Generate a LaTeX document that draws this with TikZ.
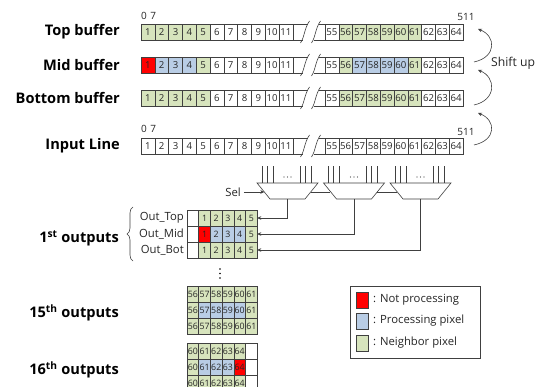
\documentclass[tikz,border=0pt]{standalone}
\usepackage{fontspec}
\setmainfont{Open Sans}
\usetikzlibrary{decorations.pathreplacing,arrows.meta,calc}
\definecolor{cG}{HTML}{D7E4BD}
\definecolor{cB}{HTML}{B9CDE5}
\definecolor{cR}{HTML}{FF0000}
\definecolor{ln}{HTML}{404040}
\newcommand\brkat[1]{%
\begin{scope}[shift={(0,#1)}]
\draw[ln,line width=0.6pt] (292.8,0)--(308,0) (292.8,16)--(302.5,16) (318.5,0)--(325,0) (313.5,16)--(325,16);
\draw[ln,line width=0.6pt] (300.5,19) .. controls (305,12) and (304,5) .. (309.5,-3)
  (311.5,19) .. controls (316,12) and (315,5) .. (320.5,-3);
\end{scope}}
\begin{document}
\begin{tikzpicture}[x=1pt,y=-1pt,
  cellb/.style={draw=ln, line width=0.6pt, minimum width=13.8pt, minimum height=16pt, inner sep=0pt, outer sep=0pt, anchor=north west, font=\fontsize{9.6}{9.6}\selectfont, text=black!85},
  cello/.style={cellb, minimum width=11.7pt, font=\fontsize{8.8}{8.8}\selectfont},
  lbl/.style={font=\fontsize{14.6}{15}\selectfont\bfseries, anchor=east, inner sep=0pt},
  small/.style={font=\fontsize{10}{10}\selectfont, inner sep=0pt, text=black!85},
  txt/.style={font=\fontsize{11.3}{12}\selectfont, inner sep=0pt, text=black!85},
  wire/.style={ln, line width=0.6pt},
  arr/.style={wire, -{Stealth[length=4pt,width=3.6pt]}},
  legsq/.style={draw=ln, line width=0.6pt, minimum width=12pt, minimum height=16pt, inner sep=0pt, anchor=north west}]
\clip (0,0) rectangle (546,387);
\fill[white] (0,0) rectangle (546,387);

% ---- labels
\node[lbl] (lt) at (120,32) {Top buffer};
\node[lbl] (lm) at (120,65) {Mid buffer};
\node[lbl] (lb) at (120,98) {Bottom buffer};
\node[lbl] (li) at (120,146) {Input Line};

% ---- buffer rows
\foreach \n/\f [count=\i from 0] in {1/cG,2/cG,3/cG,4/cG,5/cG,6/white,7/white,8/white,9/white,10/white,11/white}
  \node[cellb,fill=\f] (t\n) at (141+\i*13.8,24) {\n};
\foreach \n/\f [count=\i from 0] in {55/white,56/cG,57/cG,58/cG,59/cG,60/cG,61/cG,62/white,63/white,64/white}
  \node[cellb,fill=\f] (t\n) at (325+\i*13.8,24) {\n};
\foreach \n/\f [count=\i from 0] in {1/cR,2/cB,3/cB,4/cB,5/cG,6/white,7/white,8/white,9/white,10/white,11/white}
  \node[cellb,fill=\f] (m\n) at (141+\i*13.8,57) {\n};
\foreach \n/\f [count=\i from 0] in {55/white,56/cG,57/cB,58/cB,59/cB,60/cB,61/cG,62/white,63/white,64/white}
  \node[cellb,fill=\f] (m\n) at (325+\i*13.8,57) {\n};
\foreach \n/\f [count=\i from 0] in {1/cG,2/cG,3/cG,4/cG,5/cG,6/white,7/white,8/white,9/white,10/white,11/white}
  \node[cellb,fill=\f] (b\n) at (141+\i*13.8,90) {\n};
\foreach \n/\f [count=\i from 0] in {55/white,56/cG,57/cG,58/cG,59/cG,60/cG,61/cG,62/white,63/white,64/white}
  \node[cellb,fill=\f] (b\n) at (325+\i*13.8,90) {\n};
\foreach \n [count=\i from 0] in {1,...,11}
  \node[cellb,fill=white] (i\n) at (141+\i*13.8,138) {\n};
\foreach \n [count=\i from 0] in {55,...,64}
  \node[cellb,fill=white] (i\n) at (325+\i*13.8,138) {\n};
\brkat{24}\brkat{57}\brkat{90}\brkat{138}

\node[small,anchor=west] (z1) at (141,16) {0\,\,7};
\node[small,anchor=west] (z2) at (141,129) {0\,\,7};
\node[small] (e1) at (466,16.5) {511};
\node[small] (e2) at (466,132) {511};

% ---- shift up arrows
\coordinate (s1a) at (474,62);  \coordinate (s1b) at (478,29);
\coordinate (s2a) at (474,105); \coordinate (s2b) at (478,70);
\coordinate (s3a) at (474,145); \coordinate (s3b) at (478,113);
\draw[arr] (s1a) .. controls (497,57) and (496,36) .. (s1b);
\draw[arr] (s2a) .. controls (497,100) and (496,77) .. (s2b);
\draw[arr] (s3a) .. controls (497,140) and (496,120) .. (s3b);
\node[txt,anchor=west,font=\fontsize{12.2}{13}\selectfont] (sh) at (491,63) {Shift up};

% ---- muxes
\foreach \k in {0,1,2}{
  \pgfmathsetmacro\xo{257+66.5*\k}
  \draw[wire] (\xo,183) -- (\xo+61,183) -- (\xo+48,199) -- (\xo+13,199) -- cycle;
  \foreach \d in {5,10,16,43,48,54} \draw[wire] (\xo+\d,166.5) -- (\xo+\d,183);
  \foreach \d in {27,30.5,34} \fill[ln] (\xo+\d,177) circle (0.65);
  \coordinate (mo\k) at (\xo+30.5,199);
}
\draw[wire] (310.7,192) -- (330.3,192) (377.2,192) -- (396.8,192);
\node[txt] (sel) at (233,192) {Sel};
\coordinate (selin) at (264.3,192);
\draw[arr] (sel.east) ++(3,0) -- (selin);

% ---- first outputs grid
\foreach \r/\row in {0/{white/,cG/1,cG/2,cG/3,cG/4,cG/5},1/{white/,cR/1,cB/2,cB/3,cB/4,cG/5},2/{white/,cG/1,cG/2,cG/3,cG/4,cG/5}}
  \foreach \f/\n [count=\c from 0] in \row
    \node[cello,fill=\f] (a\r\c) at (187+\c*11.7,210+\r*16) {\n};
\node[txt,anchor=east] (ot) at (184,218) {Out\_Top};
\node[txt,anchor=east] (om) at (184,234) {Out\_Mid};
\node[txt,anchor=east] (ob) at (184,250) {Out\_Bot};
\draw[arr] (mo0) |- (a05.east);
\draw[arr] (mo1) |- (a15.east);
\draw[arr] (mo2) |- (a25.east);
\draw[wire,decorate,decoration={brace,amplitude=6pt}] (133,261) -- (133,207);
\node[lbl] (o1) at (119,238) {1\textsuperscript{st} outputs};
\foreach \yy in {269,273.5,278} \fill[black] (220,\yy) circle (0.9);

% ---- 15th outputs
\foreach \r/\row in {0/{cG/56,cG/57,cG/58,cG/59,cG/60,cG/61},1/{cG/56,cB/57,cB/58,cB/59,cB/60,cG/61},2/{cG/56,cG/57,cG/58,cG/59,cG/60,cG/61}}
  \foreach \f/\n [count=\c from 0] in \row
    \node[cello,fill=\f] (p\r\c) at (187+\c*11.7,286+\r*16) {\n};
\node[lbl] (o15) at (119,313) {15\textsuperscript{th} outputs};

% ---- 16th outputs
\foreach \r/\row in {0/{cG/60,cG/61,cG/62,cG/63,cG/64,white/},1/{cG/60,cB/61,cB/62,cB/63,cR/64,white/},2/{cG/60,cG/61,cG/62,cG/63,cG/64,white/}}
  \foreach \f/\n [count=\c from 0] in \row
    \node[cello,fill=\f] (q\r\c) at (187+\c*11.7,343+\r*16) {\n};
\node[lbl] (o16) at (119,370) {16\textsuperscript{th} outputs};

% ---- legend
\node[draw=ln,line width=0.7pt,minimum width=130pt,minimum height=72pt,anchor=north west,inner sep=0pt] (leg) at (350,286) {};
\node[legsq,fill=cR] (lr) at (356,292) {};
\node[legsq,fill=cB] (lbq) at (356,313) {};
\node[legsq,fill=cG] (lg) at (356,335) {};
\node[txt,anchor=west] (lrt) at (373,300) {: Not processing};
\node[txt,anchor=west] (lbt) at (373,321) {: Processing pixel};
\node[txt,anchor=west] (lgt) at (373,343) {: Neighbor pixel};
\end{tikzpicture}
\end{document}
